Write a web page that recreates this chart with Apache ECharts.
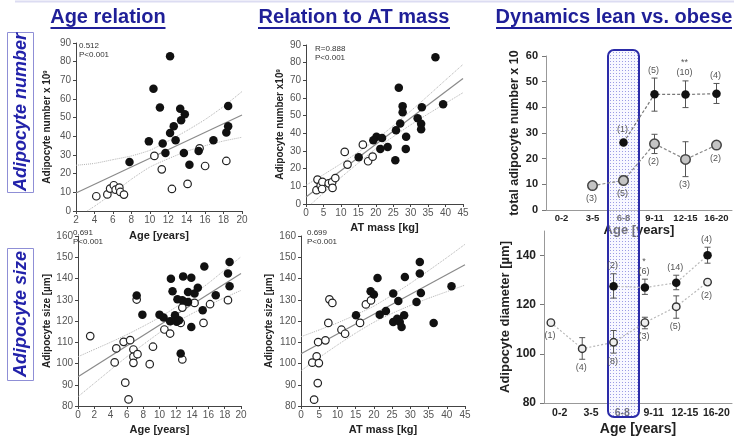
<!DOCTYPE html>
<html>
<head>
<meta charset="utf-8" />
<title>Adipocyte number and size</title>
<script src="https://cdn.jsdelivr.net/npm/echarts@6/dist/echarts.min.js"></script>
<style type="text/css">
html, body { margin: 0; padding: 0; background: #fff; }
#main { width: 734px; height: 438px; }
</style>
</head>
<body>
<div id="main"></div>
<script type="text/javascript">
// ---- data ----
// age [years] vs adipocyte number x10^9
var ageNumObese = [[7.8,26.3],[9.9,37.3],[10.4,65.5],[11.1,55.4],[11.4,36.1],[11.7,31.1],[12.2,41.8],[12.2,82.9],[12.6,45.4],[12.8,37.9],[13.3,54.8],[13.4,48.6],[13.8,51.8],[13.7,31.1],[14.3,24.8],[15.3,32.1],[16.9,37.9],[18.3,42.1],[18.5,56.3],[18.5,45.4]];
var ageNumLean = [[4.2,7.9],[5.4,8.9],[5.7,12.0],[6.1,13.8],[6.3,11.4],[6.7,12.5],[6.8,10.2],[7.2,8.8],[10.5,29.5],[11.3,22.3],[12.4,11.8],[14.1,14.5],[15.4,33.6],[16.0,24.1],[18.3,26.8]];
var ageNumFit = [[2,9.6],[20,51.4]];
var ageNumUpper = [[2,24.5],[4,25.5],[6,27.5],[8,29.5],[10,32.5],[12,37.5],[14,43],[16,49],[18,56],[20,64]];
var ageNumLower = [[3.2,0],[4,2.5],[6,9.5],[8,17],[10,23.5],[12,28],[14,32],[16,35],[18,37.5],[20,39.5]];

// AT mass [kg] vs adipocyte number x10^9
var massNumObese = [[37.1,83.0],[26.6,65.8],[27.7,55.4],[27.7,52.0],[27.0,45.6],[33.2,54.8],[32.0,48.6],[33.0,45.4],[33.0,42.3],[39.3,56.5],[25.8,41.8],[28.7,38.0],[28.6,31.2],[25.6,24.8],[23.4,32.3],[20.2,38.0],[19.3,36.1],[21.8,37.4],[21.3,31.2],[15.1,26.5]];
var massNumLean = [[11.1,29.5],[16.3,33.6],[11.9,22.3],[17.8,24.2],[19.1,26.8],[3.3,13.8],[3.0,7.8],[4.2,10.4],[4.7,12.5],[4.6,8.5],[6.5,11.7],[7.5,12.3],[7.6,9.1],[8.4,14.7]];
var massNumFit = [[0,4],[45,71]];
var massNumUpper = [[0,10.6],[5,16.6],[10,22.8],[15,29.4],[20,36.3],[25,44.3],[30,52.6],[35,61.3],[40,70.2],[45,79.0]];
var massNumLower = [[1.5,0],[5,6.2],[10,15],[15,23.2],[20,31.3],[25,38.1],[30,44.8],[35,51],[40,57],[45,63]];

// age [years] vs adipocyte size [um]
var ageSizeObese = [[7.2,132.0],[7.9,123.0],[10.0,123.0],[10.5,121.6],[11.3,119.9],[11.4,139.9],[11.6,134.0],[11.9,122.7],[12.2,130.2],[12.1,119.6],[12.4,120.4],[12.6,104.7],[12.8,129.8],[12.9,141.0],[13.5,129.0],[13.5,133.7],[13.9,140.3],[13.9,117.2],[14.3,132.9],[14.7,135.6],[15.3,125.1],[15.5,145.7],[16.9,132.1],[18.4,142.3],[18.6,136.3],[18.6,147.8]];
var ageSizeLean = [[1.5,112.9],[4.5,100.5],[4.7,107.1],[5.6,110.2],[5.8,91.0],[6.2,83.1],[6.4,111.0],[6.8,106.6],[6.8,103.2],[6.8,100.3],[7.3,104.4],[7.2,130.1],[8.8,99.7],[9.2,107.9],[10.6,116.0],[11.3,114.1],[12.6,119.1],[12.8,101.9],[12.8,126.3],[14.3,128.5],[15.4,119.1],[16.2,127.9],[18.4,129.8]];
var ageSizeFit = [[0,93.8],[20,142.3]];
var ageSizeUpper = [[0,103.2],[2,106.6],[4,110],[6,113.6],[8,117.5],[10,121.7],[12,126.5],[14,132.1],[16,137.8],[18,144],[20,150.2]];
var ageSizeLower = [[0,84.4],[2,90.7],[4,97],[6,103.2],[8,108.9],[10,114.5],[12,119.3],[14,123.5],[16,127.4],[18,131],[20,134.4]];

// AT mass [kg] vs adipocyte size [um]
var massSizeObese = [[15.1,122.7],[19.1,134.0],[20.0,132.5],[21.0,140.2],[21.6,123.0],[23.3,124.7],[25.3,132.9],[25.3,119.5],[26.4,121.1],[26.7,129.4],[27.1,119.5],[27.6,117.2],[28.3,122.7],[28.5,140.7],[31.7,128.9],[32.6,147.8],[32.6,142.3],[32.9,133.2],[36.4,119.1],[41.3,136.3]];
var massSizeLean = [[3.6,83.0],[3.1,100.4],[4.3,103.4],[4.9,100.2],[4.6,90.8],[4.7,110.1],[6.7,110.9],[7.5,119.1],[7.8,130.2],[8.6,128.5],[11.1,115.9],[12.1,114.0],[16.2,119.1],[17.8,127.8],[19.2,129.7]];
var massSizeFit = [[0,104.6],[45,146.5]];
var massSizeUpper = [[0,112.6],[5,115.8],[10,119.1],[15,122.9],[20,127.0],[25,132.2],[30,137.7],[35,143.7],[40,149.8],[45,156.1]];
var massSizeLower = [[0,96.6],[5,102.8],[10,108.7],[15,114.3],[20,119.4],[25,123.6],[30,127.3],[35,130.7],[40,133.8],[45,136.9]];

// dynamics by age group
var ageGroups = ['0-2', '3-5', '6-8', '9-11', '12-15', '16-20'];
var numObese = ['-', '-', 26.3, 45.1, 45.0, 45.3];
var numObeseErr = [null, null, null, [38.5, 51.4], [39.9, 50.3], [41.5, 49.3]];
var numObeseN = ['', '', '(1)', '(5)', '**\n(10)', '(4)'];
var numLean = ['-', 9.5, 11.5, 25.8, 19.7, 25.3];
var numLeanErr = [null, [8.7, 10.3], [9.8, 13.3], [22.0, 29.5], [13.0, 26.6], [24.5, 26.2]];
var numLeanN = ['', '(3)', '(5)', '(2)', '(3)', '(2)'];

// diameter points sit a bit left of the group ticks
var sizePos = [-0.28, 0.72, 1.72, 2.72, 3.72, 4.72];
var sizeObese = ['-', '-', 127.5, 127.0, 128.9, 140.1];
var sizeObeseErr = [null, null, [122.7, 132.6], [124.2, 130.4], [126.1, 132.0], [136.9, 143.4]];
var sizeObeseN = ['', '', '(2)', '*\n(6)', '(14)', '(4)'];
var sizeLean = [112.7, 102.1, 104.7, 112.7, 119.2, 129.2];
var sizeLeanErr = [null, [97.8, 106.6], [100.3, 109.5], [110.2, 114.9], [114.5, 123.6], [128.4, 130.0]];
var sizeLeanN = ['(1)', '(4)', '(8)', '(3)', '(5)', '(2)'];

// ---- chart ----
var FONT = '"Liberation Sans", Arial, sans-serif';
var myChart = echarts.init(document.getElementById('main'));

var grids = [
	{ left: 76, top: 43, width: 166, height: 168 },
	{ left: 306, top: 45, width: 157, height: 159 },
	{ left: 78, top: 236, width: 163, height: 170 },
	{ left: 301, top: 236, width: 164, height: 170 },
	{ left: 546, top: 56, width: 186, height: 154 },
	{ left: 544, top: 231, width: 188, height: 172 }
];

function valueX(g, min, max, step, name, gap) {
	return {
		type: 'value', gridIndex: g, min: min, max: max, interval: step,
		name: name, nameLocation: 'middle', nameGap: gap,
		nameTextStyle: { fontFamily: FONT, fontSize: 11, fontWeight: 'bold', color: '#222' },
		axisLine: { onZero: false, lineStyle: { color: '#444' } },
		axisTick: { length: 3, lineStyle: { color: '#444' } },
		axisLabel: { fontFamily: FONT, fontSize: 10, color: '#555', margin: 4 },
		splitLine: { show: false }
	};
}
function valueY(g, min, max, step, name, gap) {
	return {
		type: 'value', gridIndex: g, min: min, max: max, interval: step,
		name: name, nameLocation: 'middle', nameGap: gap,
		nameTextStyle: {
			fontFamily: FONT, fontSize: 10, fontWeight: 'bold', color: '#222',
			rich: { sup: { fontFamily: FONT, fontSize: 6, fontWeight: 'bold', color: '#222', verticalAlign: 'top' } }
		},
		axisLine: { show: true, onZero: false, lineStyle: { color: '#444' } },
		axisTick: { show: true, length: 3, lineStyle: { color: '#444' } },
		axisLabel: { fontFamily: FONT, fontSize: 10, color: '#555', margin: 5 },
		splitLine: { show: false }
	};
}
function groupX(g, fontSize, margin, gap, nameSize) {
	return {
		type: 'category', gridIndex: g, data: ageGroups,
		name: 'Age [years]', nameLocation: 'middle', nameGap: gap,
		nameTextStyle: { fontFamily: FONT, fontSize: nameSize, fontWeight: 'bold', color: '#222' },
		axisLine: { lineStyle: { color: '#999' } },
		axisTick: { inside: true, alignWithLabel: true, length: 6, lineStyle: { color: '#999' } },
		axisLabel: { fontFamily: FONT, fontSize: fontSize, fontWeight: 'bold', color: '#222', margin: margin, interval: 0 },
		splitLine: { show: false }
	};
}
function groupY(g, min, max, step, name, gap, fontSize, nameSize, showMax) {
	return {
		type: 'value', gridIndex: g, min: min, max: max, interval: step,
		name: name, nameLocation: 'middle', nameGap: gap,
		nameTextStyle: { fontFamily: FONT, fontSize: nameSize, fontWeight: 'bold', color: '#222' },
		axisLine: { show: true, onZero: false, lineStyle: { color: '#999' } },
		axisTick: { show: true, length: 4, lineStyle: { color: '#777' } },
		axisLabel: { fontFamily: FONT, fontSize: fontSize, fontWeight: 'bold', color: '#222', margin: 8, showMaxLabel: showMax },
		splitLine: { show: false }
	};
}

var xAxes = [
	valueX(0, 2, 20, 2, 'Age [years]', 19),
	valueX(1, 0, 45, 5, 'AT mass [kg]', 18),
	valueX(2, 0, 20, 2, 'Age [years]', 18),
	valueX(3, 0, 45, 5, 'AT mass [kg]', 18),
	groupX(4, 9.5, 3, 14, 13),
	groupX(5, 10.5, 5, 19, 14),
	{ type: 'value', gridIndex: 5, min: -0.5, max: 5.5, show: false }
];
var yAxes = [
	valueY(0, 0, 90, 10, 'Adipocyte number x 10{sup|9}', 24),
	valueY(1, 0, 90, 10, 'Adipocyte number x10{sup|9}', 21),
	valueY(2, 80, 160, 10, 'Adipocyte size [µm]', 26),
	valueY(3, 80, 160, 10, 'Adipocyte size [µm]', 27),
	groupY(4, 0, 60, 10, 'total adipocyte number x 10', 25, 11, 12.5, true),
	groupY(5, 80, 150, 20, 'Adipocyte diameter [µm]', 31, 12, 13, false)
];

// scatter panels: points, fit line and dotted confidence band
function scatterPanel(idx, obese, lean, fit, upper, lower) {
	return [
		{ type: 'line', xAxisIndex: idx, yAxisIndex: idx, data: upper, showSymbol: false, smooth: 0.2, z: 1,
			lineStyle: { color: '#b4b4b4', width: 1, type: 'dotted' } },
		{ type: 'line', xAxisIndex: idx, yAxisIndex: idx, data: lower, showSymbol: false, smooth: 0.2, z: 1,
			lineStyle: { color: '#b4b4b4', width: 1, type: 'dotted' } },
		{ type: 'line', xAxisIndex: idx, yAxisIndex: idx, data: fit, showSymbol: false, z: 1,
			lineStyle: { color: '#8a8a8a', width: 1.2 } },
		{ type: 'scatter', xAxisIndex: idx, yAxisIndex: idx, data: lean, symbolSize: 7.5, z: 3,
			itemStyle: { color: '#fff', borderColor: '#222', borderWidth: 1.2, opacity: 1 } },
		{ type: 'scatter', xAxisIndex: idx, yAxisIndex: idx, data: obese, symbolSize: 8.5, z: 3,
			itemStyle: { color: '#111', opacity: 1 } }
	];
}

// error bars plus the group size labels, above or below the bar
function barSeries(xIdx, yIdx, pos, vals, errs, counts, side) {
	var rows = [];
	vals.forEach(function (v, i) {
		if (v === '-') return;
		var e = errs[i] || [v, v];
		rows.push([pos[i], v, e[0], e[1], errs[i] ? 1 : 0, i]);
	});
	return {
		type: 'custom', xAxisIndex: xIdx, yAxisIndex: yIdx, data: rows, z: 1, silent: true,
		renderItem: function (params, api) {
			var x = api.value(0);
			var p = api.coord([x, api.value(1)]);
			var lo = api.coord([x, api.value(2)]);
			var hi = api.coord([x, api.value(3)]);
			var kids = [];
			if (api.value(4)) {
				var st = { stroke: '#555', lineWidth: 1 };
				kids.push({ type: 'line', shape: { x1: p[0], y1: hi[1], x2: p[0], y2: lo[1] }, style: st });
				kids.push({ type: 'line', shape: { x1: p[0] - 3, y1: hi[1], x2: p[0] + 3, y2: hi[1] }, style: st });
				kids.push({ type: 'line', shape: { x1: p[0] - 3, y1: lo[1], x2: p[0] + 3, y2: lo[1] }, style: st });
			}
			var txt = counts[api.value(5)];
			if (txt) {
				var up = side === 'above';
				var y = up ? Math.min(hi[1], p[1] - 5) - 3 : Math.max(lo[1], p[1] + 5) + 3;
				kids.push({ type: 'text', style: {
					text: txt, x: p[0] - 1, y: y, align: 'center', verticalAlign: up ? 'bottom' : 'top',
					font: '9px ' + FONT, lineHeight: 10, fill: '#555'
				} });
			}
			return { type: 'group', children: kids };
		}
	};
}

var groupIdx = ageGroups.map(function (g, i) { return i; });
function pairs(pos, vals) {
	var out = [];
	vals.forEach(function (v, i) { out.push(v === '-' ? [pos[i], '-'] : [pos[i], v]); });
	return out;
}

var series = [].concat(
	scatterPanel(0, ageNumObese, ageNumLean, ageNumFit, ageNumUpper, ageNumLower),
	scatterPanel(1, massNumObese, massNumLean, massNumFit, massNumUpper, massNumLower),
	scatterPanel(2, ageSizeObese, ageSizeLean, ageSizeFit, ageSizeUpper, ageSizeLower),
	scatterPanel(3, massSizeObese, massSizeLean, massSizeFit, massSizeUpper, massSizeLower),
	[
		barSeries(4, 4, groupIdx, numObese, numObeseErr, numObeseN, 'above'),
		barSeries(4, 4, groupIdx, numLean, numLeanErr, numLeanN, 'below'),
		{ type: 'line', xAxisIndex: 4, yAxisIndex: 4, data: numLean, symbol: 'circle', symbolSize: 9.5, z: 2,
			itemStyle: { color: '#c4c4c4', borderColor: '#444', borderWidth: 1.5 },
			lineStyle: { color: '#888', width: 1.2, type: [3, 2] } },
		{ type: 'line', xAxisIndex: 4, yAxisIndex: 4, data: numObese, symbol: 'circle', symbolSize: 8.5, z: 2,
			itemStyle: { color: '#111' },
			lineStyle: { color: '#777', width: 1.2, type: [3, 2] } },
		barSeries(6, 5, sizePos, sizeObese, sizeObeseErr, sizeObeseN, 'above'),
		barSeries(6, 5, sizePos, sizeLean, sizeLeanErr, sizeLeanN, 'below'),
		{ type: 'line', xAxisIndex: 6, yAxisIndex: 5, data: pairs(sizePos, sizeLean), symbol: 'circle', symbolSize: 7.5, z: 2,
			itemStyle: { color: '#eee', borderColor: '#333', borderWidth: 1.4 },
			lineStyle: { color: '#b8b8b8', width: 1.2, type: [2, 2] } },
		{ type: 'line', xAxisIndex: 6, yAxisIndex: 5, data: pairs(sizePos, sizeObese), symbol: 'circle', symbolSize: 8.5, z: 2,
			itemStyle: { color: '#111' },
			lineStyle: { color: '#b8b8b8', width: 1.2, type: [2, 2] } }
	]
);

// headings, side labels, statistics
var BLUE = '#1f1f98';
function title(text, cx, w) {
	return [
		{ type: 'text', style: { text: text, x: cx, y: 17, align: 'center', verticalAlign: 'middle',
			font: 'bold 20px ' + FONT, fill: BLUE } },
		{ type: 'line', shape: { x1: cx - w / 2, y1: 28, x2: cx + w / 2, y2: 28 }, style: { stroke: BLUE, lineWidth: 2 } }
	];
}
function sideLabel(text, y, h) {
	return [
		{ type: 'rect', shape: { x: 7.5, y: y + 0.5, width: 26, height: h }, style: { fill: 'none', stroke: '#8f8fd6', lineWidth: 1 } },
		{ type: 'text', x: 21, y: y + h / 2, rotation: Math.PI / 2,
			style: { text: text, x: 0, y: 0, align: 'center', verticalAlign: 'middle',
				font: 'italic bold 18px ' + FONT, fill: '#2222aa' } }
	];
}
function stat(text, x, y) {
	return { type: 'text', style: { text: text, x: x, y: y, align: 'left', verticalAlign: 'top',
		font: '8px ' + FONT, lineHeight: 9, fill: '#333' } };
}

var graphics = [].concat(
	[{ type: 'line', shape: { x1: 15, y1: 1.5, x2: 734, y2: 1.5 }, style: { stroke: '#dcdcf2', lineWidth: 2 } }],
	title('Age relation', 108, 115),
	title('Relation to AT mass', 354, 192),
	title('Dynamics lean vs. obese', 614, 236),
	sideLabel('Adipocyte number', 32, 160),
	sideLabel('Adipocyte size', 248, 132),
	[
		stat('0.512\nP<0.001', 79, 41),
		stat('R=0.888\nP<0.001', 315, 44),
		stat('0.691\nP<0.001', 73, 228),
		stat('0.699\nP<0.001', 307, 228)
	]
);

option = {
	backgroundColor: '#fff',
	animation: false,
	textStyle: { fontFamily: FONT },
	grid: grids,
	xAxis: xAxes,
	yAxis: yAxes,
	series: series,
	graphic: graphics
};
myChart.setOption(option);

// dotted highlight over the 6-8 group, spanning both right panels
var pat = document.createElement('canvas');
pat.width = 3; pat.height = 3;
var ctx = pat.getContext('2d');
ctx.fillStyle = 'rgba(238,238,255,0.4)';
ctx.fillRect(0, 0, 3, 3);
ctx.fillStyle = 'rgba(80,80,205,0.55)';
ctx.fillRect(1, 1, 1, 1);

var cx = myChart.convertToPixel({ xAxisIndex: 4 }, '6-8');
var bw = grids[4].width / ageGroups.length;
myChart.setOption({
	graphic: [{
		id: 'highlight', type: 'rect', z: 1,
		shape: { x: cx - bw / 2, y: 50, width: bw, height: 367, r: 6 },
		style: { fill: { image: pat, repeat: 'repeat' }, stroke: '#2b2ba8', lineWidth: 2 }
	}]
});
</script>
</body>
</html>
